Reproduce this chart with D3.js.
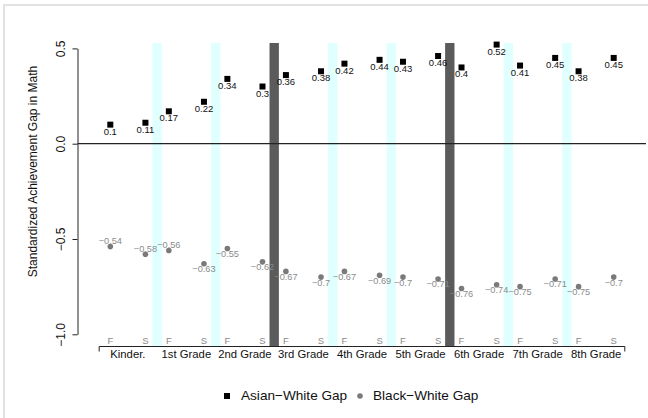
<!DOCTYPE html>
<html>
<head>
<meta charset="utf-8">
<script src="https://cdn.jsdelivr.net/npm/d3@7"></script>
<style>
  body { margin: 0; background: white; }
  text { font-family: "Liberation Sans", Arial, sans-serif; }
</style>
</head>
<body>
<div id="canvas"></div>
<script>
"use strict"
let svgWidth = 648;
let svgHeight = 418;

// data
let grades = ["Kinder.", "1st Grade", "2nd Grade", "3rd Grade", "4th Grade",
    "5th Grade", "6th Grade", "7th Grade", "8th Grade"];
let seasons = ["F", "S"];
let asianGap = [0.1, 0.11, 0.17, 0.22, 0.34, 0.3, 0.36, 0.38, 0.42,
    0.44, 0.43, 0.46, 0.4, 0.52, 0.41, 0.45, 0.38, 0.45];
let blackGap = [-0.54, -0.58, -0.56, -0.63, -0.55, -0.62, -0.67, -0.7, -0.67,
    -0.69, -0.7, -0.71, -0.76, -0.74, -0.75, -0.71, -0.75, -0.7];
let yTicks = [0.5, 0.0, -0.5, -1.0];
let schoolBreaks = [2, 5]; // after 2nd grade and after 5th grade

let svg = d3.select("#canvas")
    .append("svg")
    .attr("width", svgWidth)
    .attr("height", svgHeight);

// faint frame
svg.append("rect")
    .attr("x", 4)
    .attr("y", 5)
    .attr("width", svgWidth + 10)
    .attr("height", svgHeight + 10)
    .attr("fill", "white")
    .attr("stroke", "#e2e2e2")
    .attr("stroke-width", 2);

// F sits at the grade index, S 0.6 later
let points = [];
for (let i = 0; i < asianGap.length; i++) {
    let g = Math.floor(i / 2);
    let s = i % 2;
    points.push({pos: g + s * 0.6, season: seasons[s], asian: asianGap[i], black: blackGap[i], idx: i});
}

let xScale = d3.scaleLinear()
    .domain([0, 8.6])
    .range([110.3, 613.7]);

let yScale = d3.scaleLinear()
    .domain([-1, 0.5])
    .range([334.3, 48.4]);

let axisY = 346.5;
let bandTop = 43;

function fmt(v) {
    return String(+v.toFixed(2)).replace("-", "\u2212");
}

// vertical bands between spring and next fall
for (let g = 0; g < grades.length - 1; g++) {
    let isBreak = schoolBreaks.indexOf(g) >= 0;
    svg.append("rect")
        .attr("x", xScale(g + 0.72))
        .attr("y", bandTop)
        .attr("width", xScale(g + 0.88) - xScale(g + 0.72))
        .attr("height", axisY - bandTop)
        .attr("fill", isBreak ? "#5b5b5b" : "#e0ffff");
}

// zero line
svg.append("line")
    .attr("x1", 77.5)
    .attr("x2", 646)
    .attr("y1", yScale(0))
    .attr("y2", yScale(0))
    .attr("stroke", "#222")
    .attr("stroke-width", 1.2);

// y axis
let yAxis = d3.axisLeft(yScale)
    .tickValues(yTicks)
    .tickSize(5)
    .tickSizeOuter(0)
    .tickFormat(function(d) { return d3.format(".1f")(d).replace("-", "\u2212"); });

let yG = svg.append("g")
    .attr("transform", "translate(77.5,0)")
    .call(yAxis);
yG.select(".domain").attr("stroke", "#222");
yG.selectAll(".tick line").attr("stroke", "#222");
yG.selectAll(".tick text")
    .attr("font-size", 12)
    .attr("fill", "#111")
    .attr("x", null)
    .attr("dy", null)
    .attr("text-anchor", "middle")
    .attr("dominant-baseline", "middle")
    .attr("transform", "translate(-16,0) rotate(-90)");

svg.append("text")
    .attr("transform", "translate(33.5,171.5) rotate(-90)")
    .attr("text-anchor", "middle")
    .attr("dominant-baseline", "middle")
    .attr("font-size", 12)
    .attr("fill", "#111")
    .text("Standardized Achievement Gap in Math");

// x axis line with end ticks
let xLeft = xScale(-0.19);
let xRight = xScale(8.79);
svg.append("path")
    .attr("d", "M" + xLeft + "," + (axisY + 5) + "V" + axisY + "H" + xRight + "V" + (axisY + 5))
    .attr("fill", "none")
    .attr("stroke", "#222");

svg.selectAll(".season")
    .data(points)
    .join("text")
    .attr("class", "season")
    .attr("x", function(d) { return xScale(d.pos); })
    .attr("y", axisY - 5)
    .attr("text-anchor", "middle")
    .attr("dominant-baseline", "middle")
    .attr("font-size", 9.5)
    .attr("fill", "#8a8a8a")
    .text(function(d) { return d.season; });

svg.selectAll(".grade")
    .data(grades)
    .join("text")
    .attr("class", "grade")
    .attr("x", function(d, i) { return xScale(i + 0.3); })
    .attr("y", 355.5)
    .attr("text-anchor", "middle")
    .attr("dominant-baseline", "middle")
    .attr("font-size", 11.3)
    .attr("fill", "#111")
    .text(function(d) { return d; });

// black-white gap
svg.selectAll(".bw")
    .data(points)
    .join("circle")
    .attr("class", "bw")
    .attr("cx", function(d) { return xScale(d.pos); })
    .attr("cy", function(d) { return yScale(d.black); })
    .attr("r", 2.8)
    .attr("fill", "#7a7a7a");

svg.selectAll(".bwLabel")
    .data(points)
    .join("text")
    .attr("class", "bwLabel")
    .attr("x", function(d) { return xScale(d.pos); })
    .attr("y", function(d) { return yScale(d.black) + (d.idx < 3 ? -5 : 6); })
    .attr("text-anchor", "middle")
    .attr("dominant-baseline", "middle")
    .attr("font-size", 9.2)
    .attr("fill", "#8a8a8a")
    .text(function(d) { return fmt(d.black); });

// asian-white gap
svg.selectAll(".aw")
    .data(points)
    .join("rect")
    .attr("class", "aw")
    .attr("x", function(d) { return xScale(d.pos) - 3; })
    .attr("y", function(d) { return yScale(d.asian) - 3; })
    .attr("width", 6)
    .attr("height", 6)
    .attr("fill", "black");

svg.selectAll(".awLabel")
    .data(points)
    .join("text")
    .attr("class", "awLabel")
    .attr("x", function(d) { return xScale(d.pos); })
    .attr("y", function(d) { return yScale(d.asian) + 7.5; })
    .attr("text-anchor", "middle")
    .attr("dominant-baseline", "middle")
    .attr("font-size", 9.5)
    .attr("fill", "#111")
    .text(function(d) { return fmt(d.asian); });

// legend
let legendY = 396;
svg.append("rect")
    .attr("x", 224)
    .attr("y", legendY - 3)
    .attr("width", 6)
    .attr("height", 6)
    .attr("fill", "black");
svg.append("text")
    .attr("x", 241)
    .attr("y", legendY)
    .attr("dominant-baseline", "middle")
    .attr("font-size", 13.6)
    .attr("fill", "#111")
    .text("Asian\u2212White Gap");
svg.append("circle")
    .attr("cx", 360)
    .attr("cy", legendY)
    .attr("r", 2.8)
    .attr("fill", "#7a7a7a");
svg.append("text")
    .attr("x", 373)
    .attr("y", legendY)
    .attr("dominant-baseline", "middle")
    .attr("font-size", 13.6)
    .attr("fill", "#111")
    .text("Black\u2212White Gap");
</script>
</body>
</html>
